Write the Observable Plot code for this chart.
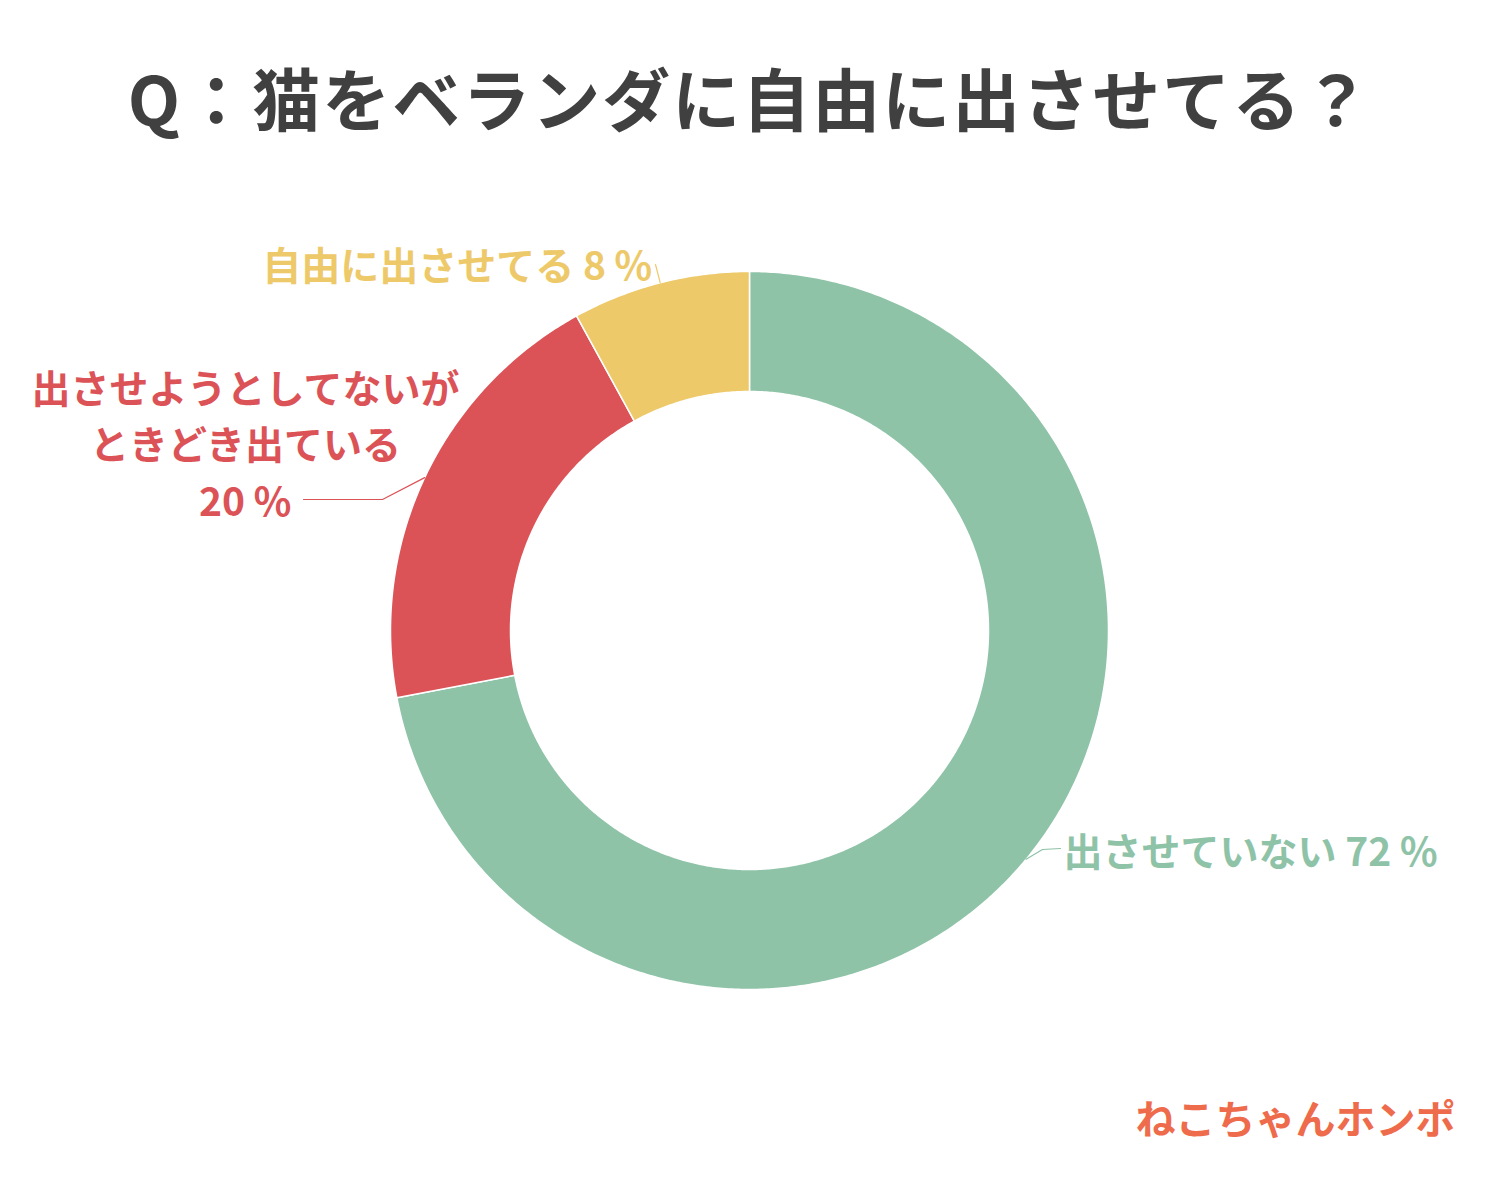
<!DOCTYPE html>
<html><head><meta charset="utf-8">
<script src="https://cdn.jsdelivr.net/npm/d3@7"></script>
<script src="https://cdn.jsdelivr.net/npm/@observablehq/plot@0.6"></script>
<style>
html,body{margin:0;padding:0;background:#fff}
body{width:1500px;height:1200px;overflow:hidden;font-family:"Noto Sans CJK JP","Noto Sans",sans-serif}
#title{height:194px;line-height:194px;text-align:center;font-size:68px;font-weight:bold;color:#404040;letter-spacing:2px;padding-left:0px}
#chart svg{display:block}
</style>
</head><body>
<div id="title">Q：猫をベランダに自由に出させてる？</div>
<div id="chart"></div>
<script>
// ---- data ----
const categories = ["出させていない", "出させようとしてないが\nときどき出ている", "自由に出させてる"];
const values = [72, 20, 8];
const colors = ["#8FC3A8", "#DC5357", "#EDC96A"];
const brand = "ねこちゃんホンポ";

// ---- layout ----
const W = 1500, H = 1200, TOP = 194;
const cx = 749, cy = 630, R = 359, r = 239;

const pie = d3.pie().sort(null).value(d => d.value);
const arcs = pie(categories.map((c, i) => ({cat: c, value: values[i]})));

// slice polygons derived from pie angles
const poly = [];
arcs.forEach(a => {
  const n = Math.max(8, Math.ceil((a.endAngle - a.startAngle) / (Math.PI / 360)));
  for (let k = 0; k <= n; k++) {
    const t = a.startAngle + (a.endAngle - a.startAngle) * k / n;
    poly.push({cat: a.data.cat, x: cx + R * Math.sin(t), y: cy - R * Math.cos(t)});
  }
  for (let k = n; k >= 0; k--) {
    const t = a.startAngle + (a.endAngle - a.startAngle) * k / n;
    poly.push({cat: a.data.cat, x: cx + r * Math.sin(t), y: cy - r * Math.cos(t)});
  }
});

// label layout (elbow and text anchors per slice)
const labelLayout = [
  {elbow: [1042, 849], end: [1060, 848], tx: 1063, ty: 853, anchor: "start"},
  {elbow: [382, 499], end: [303, 499], tx: 245, ty: 441, anchor: "middle"},
  {elbow: [655, 264], end: null, tx: 457, ty: 262, anchor: "middle"}
];
const leaders = [];
arcs.forEach((a, i) => {
  const m = (a.startAngle + a.endAngle) / 2;
  const L = labelLayout[i];
  leaders.push({cat: a.data.cat, x: cx + R * Math.sin(m), y: cy - R * Math.cos(m)});
  leaders.push({cat: a.data.cat, x: L.elbow[0], y: L.elbow[1]});
  if (L.end) leaders.push({cat: a.data.cat, x: L.end[0], y: L.end[1]});
});
const labels = arcs.map((a, i) => {
  const L = labelLayout[i];
  const name = a.data.cat;
  const pct = `${a.data.value}\u2009％`;
  const text = name.includes("\n") ? `${name}\n${pct}` : `${name} ${pct}`;
  return {cat: name, x: L.tx, y: L.ty, text, anchor: L.anchor};
});

const chart = Plot.plot({
  width: W, height: H - TOP,
  margin: 0,
  x: {domain: [0, W], range: [0, W], axis: null},
  y: {domain: [TOP, H], range: [0, H - TOP], axis: null},
  color: {domain: categories, range: colors},
  style: {background: "#fff", fontFamily: "'Noto Sans CJK JP', sans-serif"},
  marks: [
    Plot.line(poly, {x: "x", y: "y", z: "cat", fill: "cat", stroke: "#fff", strokeWidth: 1.5, curve: "linear-closed"}),
    Plot.line(leaders, {x: "x", y: "y", z: "cat", stroke: "cat", strokeWidth: 1.2}),
    Plot.text(labels.filter(d => d.anchor === "start"), {x: "x", y: "y", text: "text", fill: "cat", textAnchor: "start", fontSize: 39, fontWeight: "bold", lineAnchor: "middle"}),
    Plot.text(labels.filter(d => d.anchor === "middle"), {x: "x", y: "y", text: "text", fill: "cat", textAnchor: "middle", fontSize: 39, fontWeight: "bold", lineAnchor: "middle", lineHeight: 1.44}),
    Plot.text([brand], {x: () => 1295, y: () => 1121, text: d => d, fill: "#EE6B4B", fontSize: 40, fontWeight: "bold", textAnchor: "middle", lineAnchor: "middle"})
  ]
});
document.getElementById("chart").appendChild(chart);
</script>
</body></html>
